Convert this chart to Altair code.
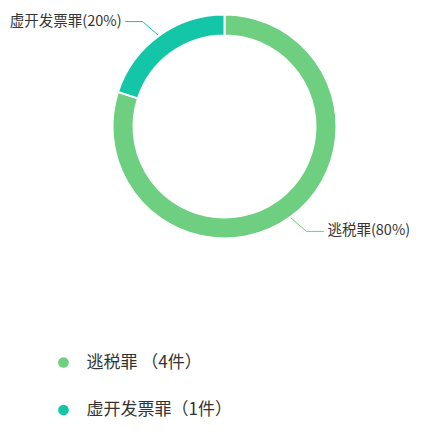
import math
import altair as alt
import pandas as pd

categories = ["逃税罪", "虚开发票罪"]
counts = [4, 1]
colors = ["#6dcf7f", "#12c6a7"]
legend_labels = ["逃税罪\u00a0（4件）", "虚开发票罪（1件）"]

FONT = "Noto Sans CJK SC"
CX, CY = 216.5, 118.5
R_OUT, R_IN = 112, 91

total = sum(counts)
pct = [round(100 * c / total) for c in counts]

base = pd.DataFrame({"cat": categories, "n": counts, "ord": list(range(len(categories)))})

color_scale = alt.Scale(domain=categories, range=colors)

pie = alt.Chart(base).mark_arc(
    innerRadius=R_IN, outerRadius=R_OUT, stroke="white", strokeWidth=2
).encode(
    theta=alt.Theta("n:Q", stack=True),
    order=alt.Order("ord:Q"),
    color=alt.Color("cat:N", scale=color_scale, legend=None),
    x=alt.value(CX),
    y=alt.value(CY),
)

# leader lines and labels derived from the slice angles
line_rows, label_rows = [], []
cum = 0
for cat, c, p in zip(categories, counts, pct):
    mid = 2 * math.pi * (cum + c / 2) / total
    cum += c
    sx, sy = math.sin(mid), -math.cos(mid)
    side = 1 if sx >= 0 else -1
    vside = 1 if sy >= 0 else -1
    p0 = (CX + (R_OUT + 1) * sx, CY + (R_OUT + 1) * sy)
    p1 = (p0[0] + side * 15.5, p0[1] + vside * 13.5)
    p2 = (p1[0] + side * 17.5, p1[1])
    for i, (x, y) in enumerate([p0, p1, p2]):
        line_rows.append({"cat": cat, "i": i, "x": x, "y": y})
    label_rows.append({"cat": cat, "label": f"{cat}({p}%)", "x": p2[0] + side * 3.5,
                       "y": p2[1], "side": "r" if side > 0 else "l"})

lines_df = pd.DataFrame(line_rows)
labels_df = pd.DataFrame(label_rows)

leaders = alt.Chart(lines_df).mark_line(strokeWidth=1).encode(
    x=alt.X("x:Q", scale=None, axis=None),
    y=alt.Y("y:Q", scale=None, axis=None),
    detail="cat:N",
    order="i:Q",
    color=alt.Color("cat:N", scale=color_scale, legend=None),
)

lab_r = alt.Chart(labels_df[labels_df.side == "r"]).mark_text(
    align="left", baseline="middle", font=FONT, fontSize=14.5, color="#363636"
).encode(x=alt.X("x:Q", scale=None, axis=None), y=alt.Y("y:Q", scale=None, axis=None), text="label:N")

lab_l = alt.Chart(labels_df[labels_df.side == "l"]).mark_text(
    align="right", baseline="middle", font=FONT, fontSize=14.5, color="#363636"
).encode(x=alt.X("x:Q", scale=None, axis=None), y=alt.Y("y:Q", scale=None, axis=None), text="label:N")

# custom legend
leg_df = pd.DataFrame({
    "cat": categories,
    "text": legend_labels,
    "x": [55.5] * len(categories),
    "y": [354.5 + 47.5 * i for i in range(len(categories))],
})
leg_df["tx"] = leg_df["x"] + 23

leg_pts = alt.Chart(leg_df).mark_point(filled=True, shape="circle", size=115, opacity=1).encode(
    x=alt.X("x:Q", scale=None, axis=None),
    y=alt.Y("y:Q", scale=None, axis=None),
    color=alt.Color("cat:N", scale=color_scale, legend=None),
)
leg_txt = alt.Chart(leg_df).mark_text(
    align="left", baseline="middle", font=FONT, fontSize=17, color="#333333"
).encode(x=alt.X("tx:Q", scale=None, axis=None), y=alt.Y("y:Q", scale=None, axis=None), text="text:N")

chart = alt.layer(pie, leaders, lab_r, lab_l, leg_pts, leg_txt).properties(
    width=412, height=418, padding=0, background="white"
).configure_view(stroke=None)

chart.save("out.html", embed_options={"renderer": "svg", "actions": False})
